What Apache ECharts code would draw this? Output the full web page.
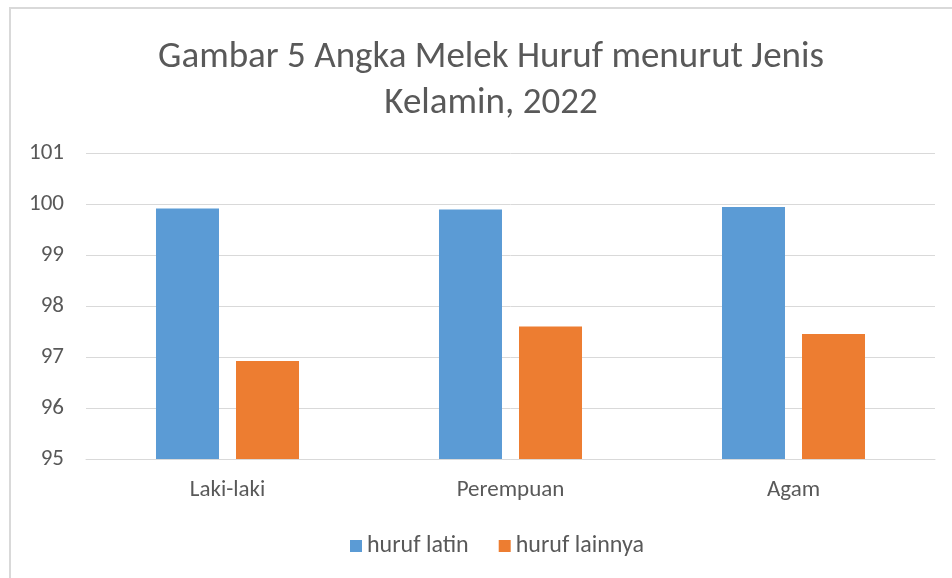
<!DOCTYPE html>
<html>
<head>
<meta charset="utf-8">
<script src="https://cdn.jsdelivr.net/npm/echarts@6/dist/echarts.min.js"></script>
<style>
  html, body { margin: 0; padding: 0; background: #fff; }
  #chart { width: 952px; height: 578px; }
</style>
</head>
<body>
<div id="chart"></div>
<script>
var categories = ['Laki-laki', 'Perempuan', 'Agam'];
var hurufLatin = [99.91, 99.89, 99.94];
var hurufLainnya = [96.92, 97.60, 97.45];
var yTicks = [95, 96, 97, 98, 99, 100, 101];

var font = 'Carlito, "Open Sans", sans-serif';
var textColor = '#595959';

var myChart = echarts.init(document.getElementById('chart'));
myChart.setOption({
  animation: false,
  textStyle: { fontFamily: font },
  graphic: [
    {
      type: 'rect',
      shape: { x: 10, y: 8, width: 960, height: 600 },
      style: { fill: 'none', stroke: '#d9d9d9', lineWidth: 2 },
      silent: true
    }
  ],
  title: {
    text: 'Gambar 5 Angka Melek Huruf menurut Jenis\nKelamin, 2022',
    left: 486,
    top: 30,
    textAlign: 'center',
    textStyle: {
      color: textColor,
      fontSize: 37,
      fontWeight: 'normal',
      fontFamily: font,
      lineHeight: 46
    }
  },
  legend: {
    bottom: 15,
    left: 345,
    itemWidth: 12,
    itemHeight: 12,
    itemGap: 30,
    icon: 'rect',
    textStyle: { color: textColor, fontSize: 24, fontFamily: font },
    data: ['huruf latin', 'huruf lainnya']
  },
  grid: {
    left: 86,
    right: 17,
    top: 153,
    bottom: 119,
    containLabel: false
  },
  xAxis: {
    type: 'category',
    data: categories,
    axisLine: { lineStyle: { color: '#d9d9d9' } },
    axisTick: { show: false },
    axisLabel: { color: textColor, fontSize: 23, margin: 20, fontFamily: font }
  },
  yAxis: {
    type: 'value',
    min: yTicks[0],
    max: yTicks[yTicks.length - 1],
    interval: 1,
    axisLine: { show: false },
    axisTick: { show: false },
    axisLabel: { color: textColor, fontSize: 23, margin: 22, fontFamily: font },
    splitLine: { lineStyle: { color: '#d9d9d9' } }
  },
  series: [
    {
      name: 'huruf latin',
      type: 'bar',
      barWidth: 63,
      barGap: '27%',
      itemStyle: { color: '#5b9bd5' },
      data: hurufLatin
    },
    {
      name: 'huruf lainnya',
      type: 'bar',
      barWidth: 63,
      barGap: '27%',
      itemStyle: { color: '#ed7d31' },
      data: hurufLainnya
    }
  ]
});
</script>
</body>
</html>
